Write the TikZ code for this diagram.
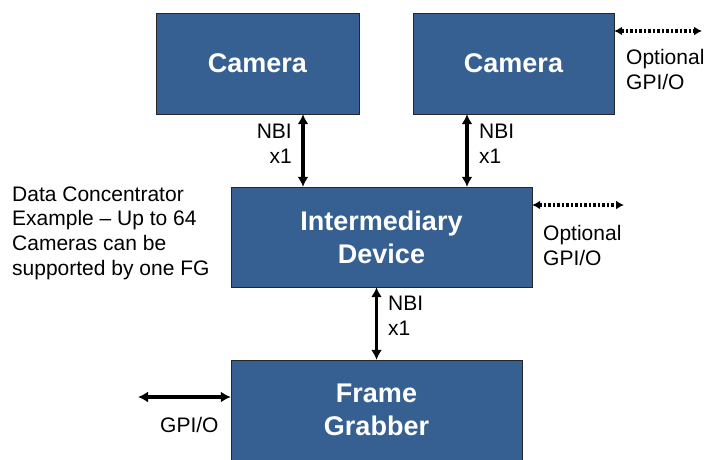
\documentclass[tikz,border=0pt]{standalone}
\usepackage{fontspec}
\setmainfont{Liberation Sans}
\usetikzlibrary{arrows.meta}
\definecolor{boxblue}{RGB}{54,96,146}
\tikzset{
    unit/.style={draw=black!85,fill=boxblue,text=white,font=\fontsize{27}{33}\selectfont\bfseries,align=center,inner sep=0pt},
    link/.style={line width=3.5pt,{Latex[length=10pt,width=11pt]}-{Latex[length=10pt,width=11pt]}},
    gpio/.style={line width=3.5pt,dash pattern=on 2.5pt off 2pt,{Latex[length=8pt,width=9pt]}-{Latex[length=8pt,width=9pt]}},
    note/.style={font=\fontsize{21}{24.6}\selectfont,inner sep=0pt}
}
\begin{document}
\begin{tikzpicture}[x=1pt,y=-1pt]
    \useasboundingbox (0,0) rectangle (706,459);
    % boxes
    \node[unit,minimum width=203,minimum height=101] (cam1) at (257.5,63.5) {\raisebox{-2pt}{Camera}};
    \node[unit,minimum width=201,minimum height=101] (cam2) at (513.5,63.5) {\raisebox{-2pt}{Camera}};
    \node[unit,minimum width=301,minimum height=100] (inter) at (381.5,237) {Intermediary\\Device};
    \node[unit,minimum width=291,minimum height=100] (fg) at (376.5,410) {Frame\\Grabber};
    % NBI links
    \draw[link] ([xshift=45.5]cam1.south) coordinate (l1) -- (l1 |- inter.north);
    \draw[link] ([xshift=-46.5]cam2.south) coordinate (l2) -- (l2 |- inter.north);
    \draw[link] (fg.north) -- (fg.north |- inter.south);
    \node[note,align=right,anchor=east] (nbi1) at (292,144) {NBI\\x1};
    \node[note,align=left,anchor=west] (nbi2) at (479,144) {NBI\\x1};
    \node[note,align=left,anchor=west] (nbi3) at (388,316) {NBI\\x1};
    % GPI/O
    \coordinate (g1) at (702,31);
    \coordinate (g2) at (624,205);
    \coordinate (g3) at (138,397);
    \draw[gpio] (cam2.east |- g1) -- (g1);
    \draw[gpio] (inter.east |- g2) -- (g2);
    \draw[link] (fg.west |- g3) -- (g3);
    \node[note,align=left,anchor=west] (opt1) at (626,69.5) {Optional\\GPI/O};
    \node[note,align=left,anchor=west] (opt2) at (543,245.5) {Optional\\GPI/O};
    \node[note,anchor=west] (gpio) at (160,425) {GPI/O};
    \node[note,align=left,anchor=west] (info) at (12,233) {Data Concentrator\\Example -- Up to 64\\Cameras can be\\supported by one FG};
\end{tikzpicture}
\end{document}
